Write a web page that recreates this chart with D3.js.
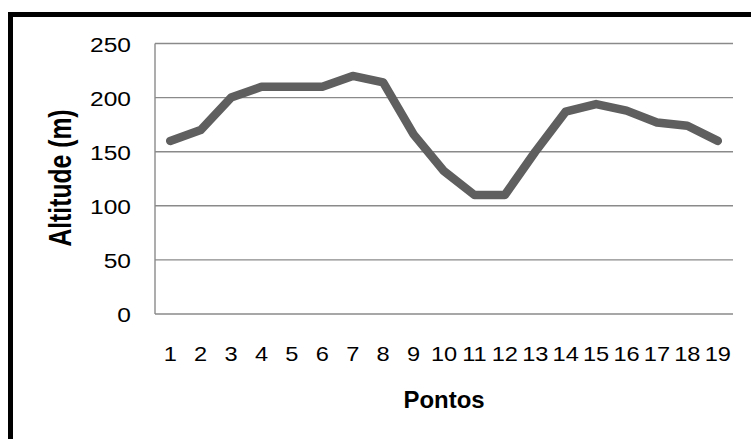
<!DOCTYPE html>
<html>
<head>
<meta charset="utf-8">
<script src="https://cdn.jsdelivr.net/npm/d3@7"></script>
<style>
html,body{margin:0;padding:0;background:#fff;}
svg{display:block;}
</style>
</head>
<body>
<script>
const categories = ["1","2","3","4","5","6","7","8","9","10","11","12","13","14","15","16","17","18","19"];
const altitude = [160,170,200,210,210,210,220,214,166,132,110,110,150,187,194,188,177,174,160];
const yTicks = [0,50,100,150,200,250];
const xTitle = "Pontos";
const yTitle = "Altitude (m)";

(function () {
const W = 751, H = 439;
const svg = d3.select("body").append("svg").attr("width", W).attr("height", H);

// outer frame
svg.append("rect").attr("x", 10.5).attr("y", 14.5).attr("width", 800).attr("height", 500)
  .attr("fill", "none").attr("stroke", "#000").attr("stroke-width", 5);

const pL = 155, pR = 733, pT = 43.5, pB = 314;
const x = d3.scaleBand().domain(categories).range([pL, pR]).paddingInner(0).paddingOuter(0);
const y = d3.scaleLinear().domain([0, 250]).range([pB, pT]);

const font = "Liberation Sans, Arial, sans-serif";

// gridlines
svg.append("g").selectAll("line").data(yTicks).join("line")
  .attr("x1", pL).attr("x2", pR)
  .attr("y1", d => y(d)).attr("y2", d => y(d))
  .attr("stroke", "#8a8a8a").attr("stroke-width", 1.4);
// left axis line
svg.append("line").attr("x1", pL).attr("x2", pL).attr("y1", y(250)).attr("y2", y(0))
  .attr("stroke", "#8a8a8a").attr("stroke-width", 1.4);

// y axis labels
svg.append("g").selectAll("text").data(yTicks).join("text")
  .attr("transform", d => `translate(131,${y(d)}) scale(1.17,1)`)
  .attr("dy", "0.4em").attr("text-anchor", "end")
  .attr("font-family", font).attr("font-size", 21).attr("fill", "#000")
  .text(d => d);

// x axis labels
svg.append("g").selectAll("text").data(categories).join("text")
  .attr("transform", d => `translate(${x(d) + x.bandwidth() / 2},361) scale(1.18,1)`)
  .attr("text-anchor", "middle")
  .attr("font-family", font).attr("font-size", 20).attr("fill", "#000")
  .text(d => d);

// line
const line = d3.line().x((d, i) => x(categories[i]) + x.bandwidth() / 2).y(d => y(d));
svg.append("path").datum(altitude).attr("d", line)
  .attr("fill", "none").attr("stroke", "#5f5f5f").attr("stroke-width", 8.5)
  .attr("stroke-linecap", "round").attr("stroke-linejoin", "round");

// titles
svg.append("text").attr("transform", `translate(${(pL + pR) / 2},408) scale(1.02,1)`)
  .attr("text-anchor", "middle").attr("font-family", font).attr("font-weight", "bold")
  .attr("font-size", 23.5).text(xTitle);
svg.append("text").attr("transform", `translate(71,178) rotate(-90) scale(1,1.27)`)
  .attr("text-anchor", "middle").attr("font-family", font).attr("font-weight", "bold")
  .attr("font-size", 24.7).text(yTitle);
})();
</script>
</body>
</html>
